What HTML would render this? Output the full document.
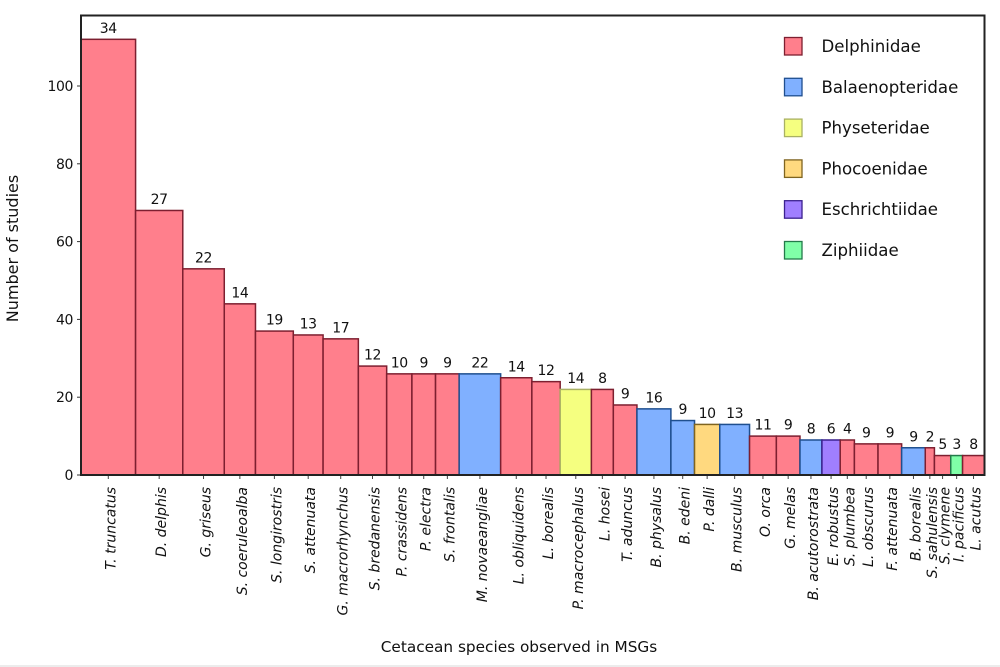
<!DOCTYPE html>
<html lang="en">
<head>
<meta charset="utf-8">
<title>Cetacean species observed in MSGs</title>
<style>
html,body{margin:0;padding:0;background:#fff;width:1000px;height:667px;overflow:hidden}
svg{display:block;font-family:"DejaVu Sans","Liberation Sans",sans-serif;fill:#111}
</style>
</head>
<body>
<svg id="chart" width="1000" height="667" viewBox="0 0 1000 667" xmlns="http://www.w3.org/2000/svg"></svg>
<script>
const species = ["T. truncatus","D. delphis","G. griseus","S. coeruleoalba","S. longirostris","S. attenuata","G. macrorhynchus","S. bredanensis","P. crassidens","P. electra","S. frontalis","M. novaeangliae","L. obliquidens","L. borealis","P. macrocephalus","L. hosei","T. aduncus","B. physalus","B. edeni","P. dalli","B. musculus","O. orca","G. melas","B. acutorostrata","E. robustus","S. plumbea","L. obscurus","F. attenuata","B. borealis","S. sahulensis","S. clymene","I. pacificus","L. acutus"];
const studies = [112,68,53,44,37,36,35,28,26,26,26,26,25,24,22,22,18,17,14,13,13,10,10,9,9,9,8,8,7,7,5,5,5];
const printedCounts = [34,27,22,14,19,13,17,12,10,9,9,22,14,12,14,8,9,16,9,10,13,11,9,8,6,4,9,9,9,2,5,3,8];
const speciesFamily = ["Delphinidae","Delphinidae","Delphinidae","Delphinidae","Delphinidae","Delphinidae","Delphinidae","Delphinidae","Delphinidae","Delphinidae","Delphinidae","Balaenopteridae","Delphinidae","Delphinidae","Physeteridae","Delphinidae","Delphinidae","Balaenopteridae","Balaenopteridae","Phocoenidae","Balaenopteridae","Delphinidae","Delphinidae","Balaenopteridae","Eschrichtiidae","Delphinidae","Delphinidae","Delphinidae","Balaenopteridae","Delphinidae","Delphinidae","Ziphiidae","Delphinidae"];
const families = ["Delphinidae","Balaenopteridae","Physeteridae","Phocoenidae","Eschrichtiidae","Ziphiidae"];
const yTicks = [0,20,40,60,80,100];

const familyFill = {Delphinidae:"#ff7f8c",Balaenopteridae:"#80b0ff",Physeteridae:"#f5ff80",Phocoenidae:"#ffd97f",Eschrichtiidae:"#a07fff",Ziphiidae:"#80ffa8"};
const familyEdge = {Delphinidae:"#7d1f30",Balaenopteridae:"#1f4f8f",Physeteridae:"#a9b163",Phocoenidae:"#7f6420",Eschrichtiidae:"#3b218f",Ziphiidae:"#237a4a"};

const svg = document.getElementById('chart');
const NS = 'http://www.w3.org/2000/svg';
const plot = {left:81, right:984.5, top:15.5, bottom:475};

function make(tag, attrs, parent){
  const el = document.createElementNS(NS, tag);
  for (const k in attrs) el.setAttribute(k, attrs[k]);
  (parent || svg).appendChild(el);
  return el;
}
function yScale(v){ return plot.bottom - v * 3.89; }
const widthWeights = printedCounts.map(function(n){ return Math.pow(n, 0.63); });
const weightTotal = widthWeights.reduce(function(a,b){ return a + b; }, 0);
function widthScale(i){ return widthWeights[i] / weightTotal * (plot.right - plot.left); }

let cursor = plot.left;
studies.forEach(function(v, i){
  const w = widthScale(i);
  const fam = speciesFamily[i];
  const cx = cursor + w / 2;
  const slug = species[i].toLowerCase().replace(/[^a-z]+/g, '-');

  const bar = make('rect', {x:cursor, y:yScale(v), width:w, height:plot.bottom - yScale(v), fill:familyFill[fam], stroke:familyEdge[fam], 'stroke-width':1.5});
  
  

  const val = make('text', {x:cx, y:yScale(v) - 6.5, 'text-anchor':'middle', 'font-size':14, 'letter-spacing':-0.4});
  val.textContent = printedCounts[i];
  
  

  const tick = make('line', {x1:cx, x2:cx, y1:plot.bottom, y2:plot.bottom + 4, stroke:'#444', 'stroke-width':1});
  
  

  const lab = make('text', {transform:'translate(' + (cx + 7) + ',487) rotate(-90)', 'text-anchor':'end', 'font-size':14, 'font-style':'italic'});
  lab.textContent = species[i];
  
  

  cursor += w;
});

yTicks.forEach(function(t){
  const y = yScale(t);
  const tick = make('line', {x1:plot.left - 4, x2:plot.left, y1:y, y2:y, stroke:'#333', 'stroke-width':1});
  
  
  const lab = make('text', {x:plot.left - 8, y:y + 5, 'text-anchor':'end', 'font-size':14, 'letter-spacing':-0.4});
  lab.textContent = t;
  
  
});

const frame = make('rect', {x:plot.left, y:plot.top, width:plot.right - plot.left, height:plot.bottom - plot.top, fill:'none', stroke:'#222', 'stroke-width':2});



families.forEach(function(f, i){
  const y = 37.5 + i * 40.8;
  const sw = make('rect', {x:784.5, y:y, width:17.5, height:17.5, fill:familyFill[f], stroke:familyEdge[f], 'stroke-width':1.3});
  
  
  const t = make('text', {x:821.5, y:y + 14.5, 'font-size':16.6});
  t.textContent = f;
  
  
});

const yTitle = make('text', {transform:'translate(18,248.5) rotate(-90)', 'text-anchor':'middle', 'font-size':16});
yTitle.textContent = 'Number of studies';



const xTitle = make('text', {x:519, y:652, 'text-anchor':'middle', 'font-size':15.3});
xTitle.textContent = 'Cetacean species observed in MSGs';



const rule = make('rect', {x:0, y:665, width:1000, height:2, fill:'#ececec'});


</script>
</body>
</html>
